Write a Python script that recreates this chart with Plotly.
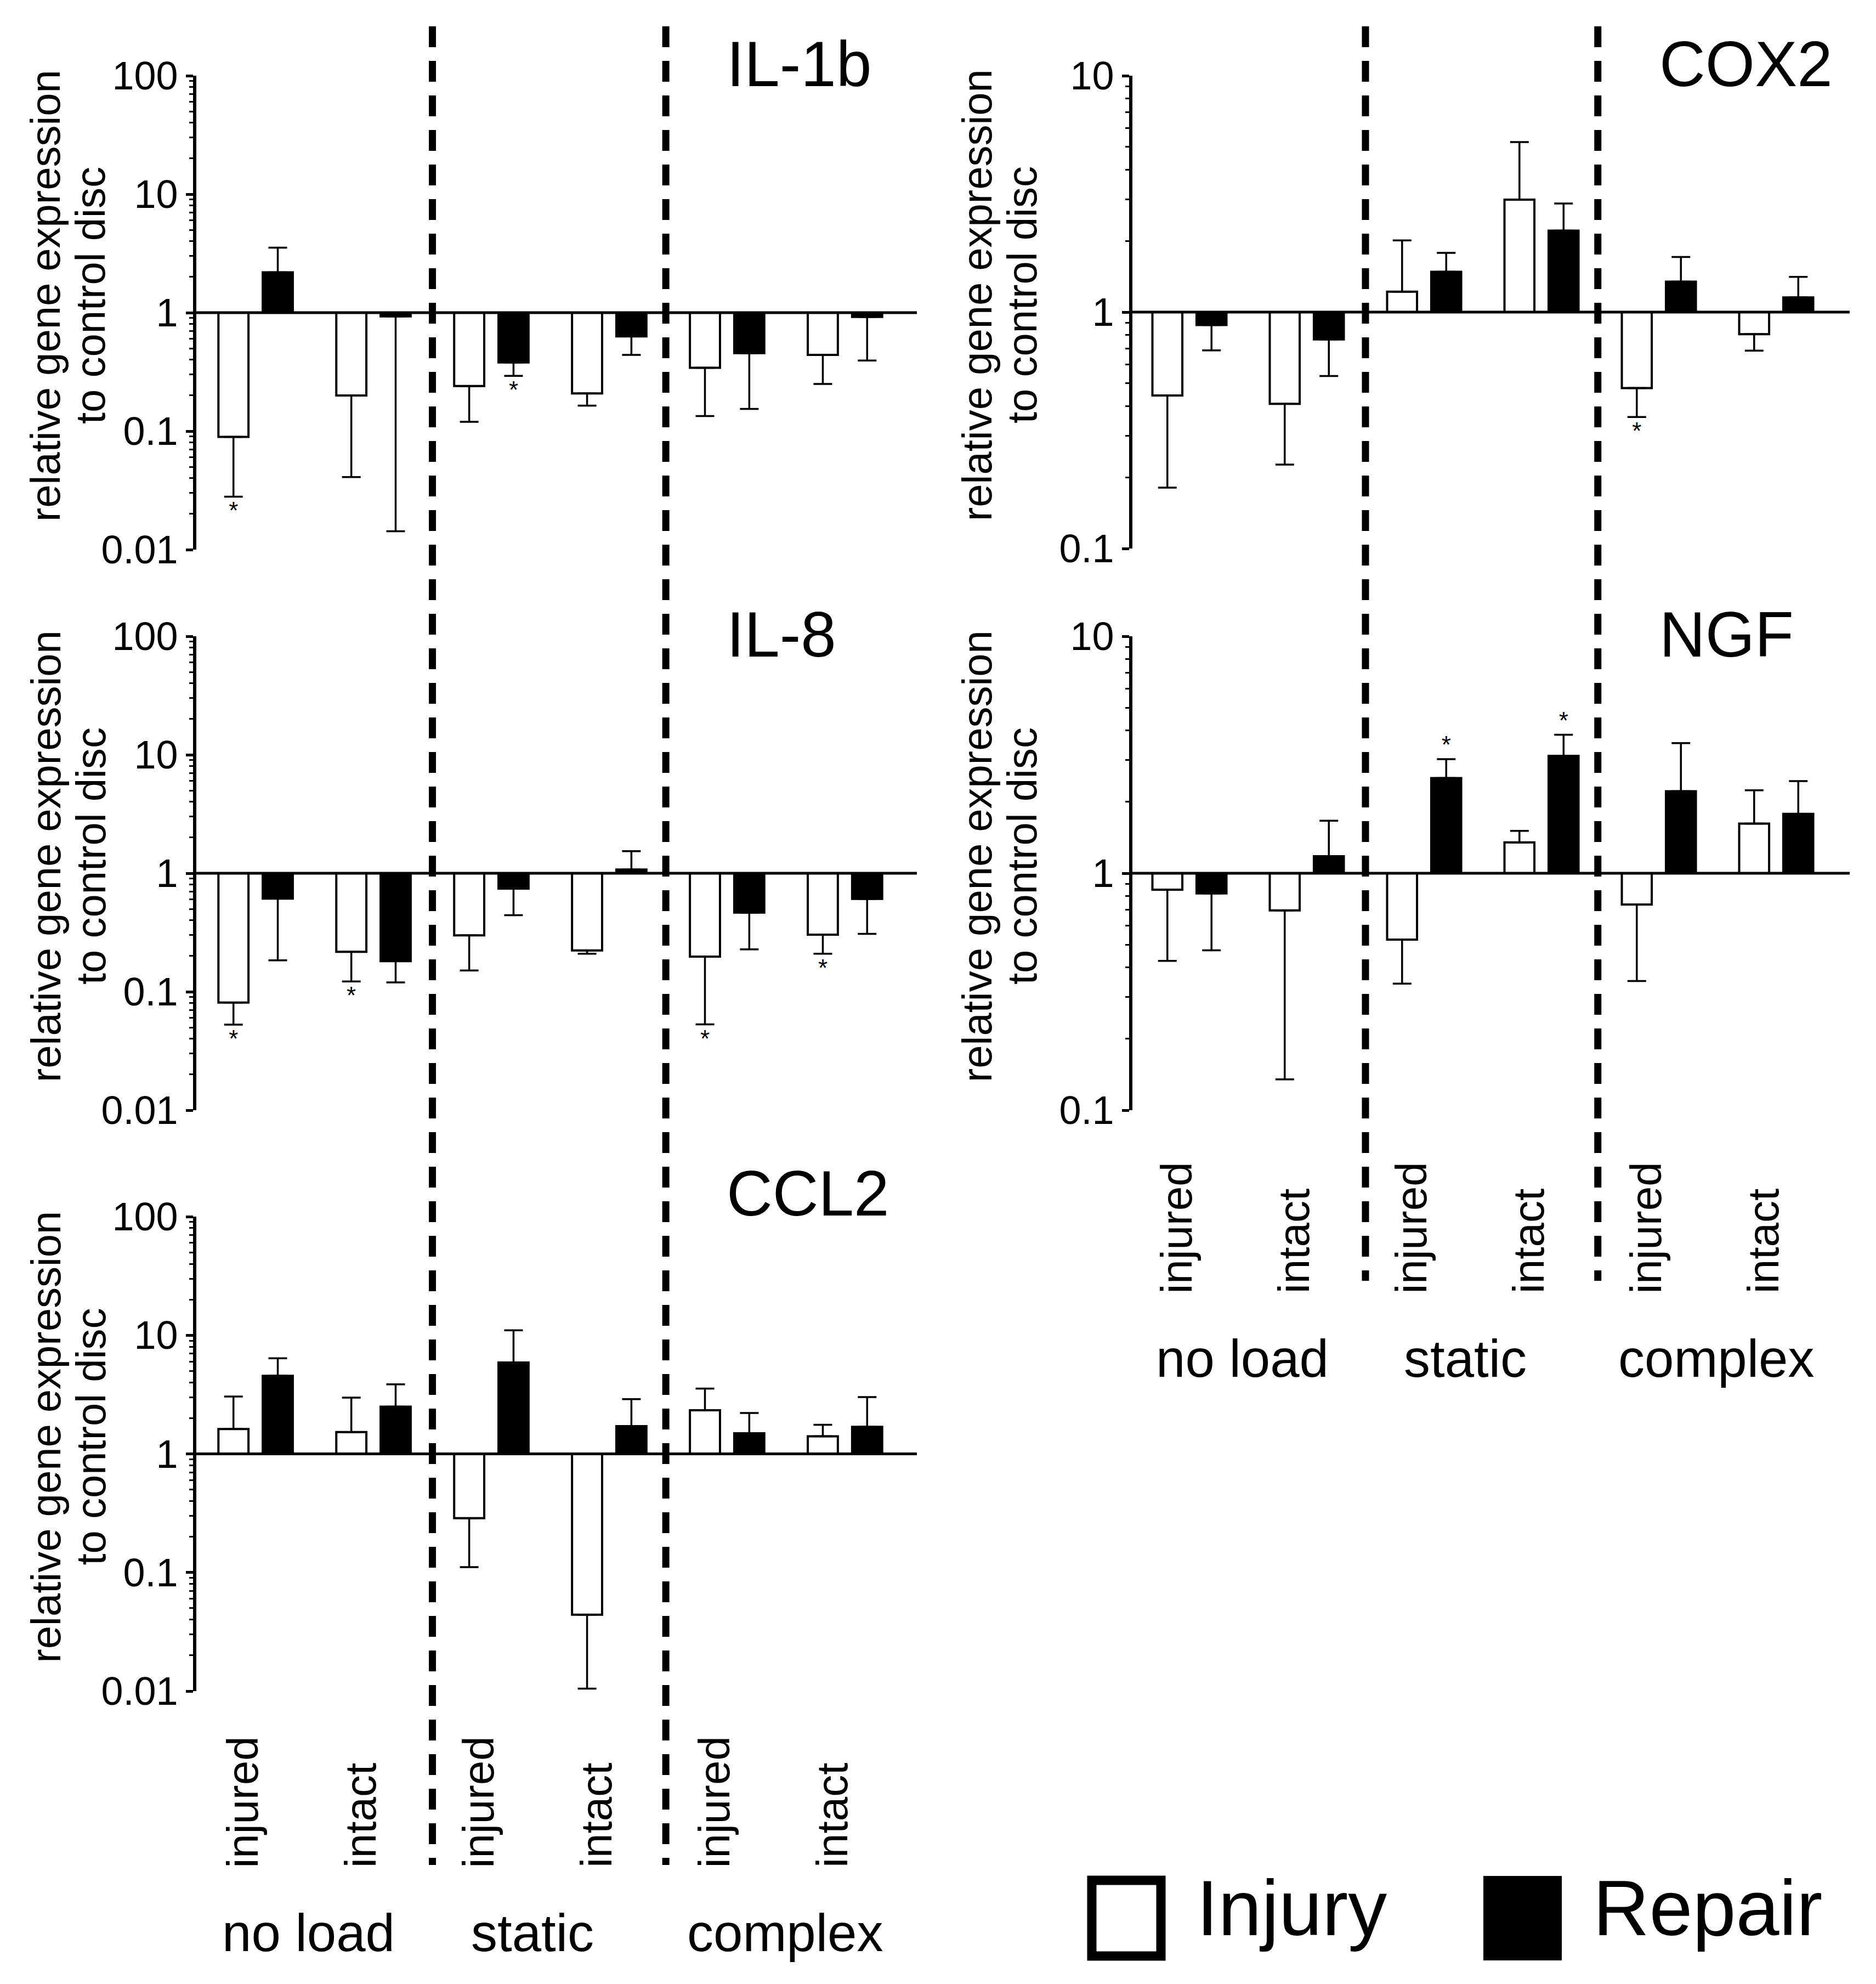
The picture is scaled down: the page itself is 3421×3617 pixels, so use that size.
import plotly.graph_objects as go

W, H = 3421, 3617
FONT = "Liberation Sans, Arial, Helvetica, sans-serif"

# ---------------- data ----------------
positions = [0, 1, 2, 3, 4, 5]
categories = ["injured", "intact", "injured", "intact", "injured", "intact"]
groups = ["no load", "static", "complex"]
series_names = ["Injury", "Repair"]

# IL-1b
il1b_injury = [0.0895, 0.20, 0.24, 0.208, 0.343, 0.44]
il1b_injury_err = [0.028, 0.041, 0.12, 0.164, 0.134, 0.25]
il1b_repair = [2.19, 0.93, 0.38, 0.63, 0.456, 0.92]
il1b_repair_err = [3.54, 0.0143, 0.293, 0.44, 0.154, 0.395]
il1b_injury_star = [0]
il1b_repair_star = [2]

# IL-8
il8_injury = [0.081, 0.217, 0.299, 0.223, 0.198, 0.303]
il8_injury_err = [0.0527, 0.122, 0.151, 0.209, 0.053, 0.209]
il8_repair = [0.611, 0.181, 0.741, 1.074, 0.466, 0.607]
il8_repair_err = [0.184, 0.12, 0.443, 1.535, 0.228, 0.308]
il8_injury_star = [0, 1, 4, 5]
il8_repair_star = []

# CCL2
ccl2_injury = [1.62, 1.525, 0.287, 0.044, 2.33, 1.405]
ccl2_injury_err = [3.04, 2.98, 0.111, 0.0105, 3.55, 1.76]
ccl2_repair = [4.55, 2.5, 5.88, 1.71, 1.49, 1.69]
ccl2_repair_err = [6.39, 3.86, 11.0, 2.89, 2.21, 3.01]
ccl2_injury_star = []
ccl2_repair_star = []

# COX2
cox2_injury = [0.444, 0.409, 1.22, 2.99, 0.477, 0.807]
cox2_injury_err = [0.181, 0.2265, 2.01, 5.24, 0.36, 0.687]
cox2_repair = [0.882, 0.767, 1.48, 2.21, 1.346, 1.154]
cox2_repair_err = [0.689, 0.537, 1.78, 2.88, 1.71, 1.41]
cox2_injury_star = [4]
cox2_repair_star = []

# NGF
ngf_injury = [0.852, 0.697, 0.525, 1.349, 0.738, 1.62]
ngf_injury_err = [0.427, 0.135, 0.342, 1.51, 0.351, 2.24]
ngf_repair = [0.822, 1.18, 2.52, 3.13, 2.22, 1.78]
ngf_repair_err = [0.473, 1.666, 3.03, 3.84, 3.54, 2.45]
ngf_injury_star = []
ngf_repair_star = [2, 3]

left_ticks = [0.01, 0.1, 1, 10, 100]
left_ticktext = ["0.01", "0.1", "1", "10", "100"]
right_ticks = [0.1, 1, 10]
right_ticktext = ["0.1", "1", "10"]

panels = [
    dict(title="IL-1b", inj=il1b_injury, inj_err=il1b_injury_err, rep=il1b_repair, rep_err=il1b_repair_err,
         inj_star=il1b_injury_star, rep_star=il1b_repair_star, col=0, row=0),
    dict(title="IL-8", inj=il8_injury, inj_err=il8_injury_err, rep=il8_repair, rep_err=il8_repair_err,
         inj_star=il8_injury_star, rep_star=il8_repair_star, col=0, row=1),
    dict(title="CCL2", inj=ccl2_injury, inj_err=ccl2_injury_err, rep=ccl2_repair, rep_err=ccl2_repair_err,
         inj_star=ccl2_injury_star, rep_star=ccl2_repair_star, col=0, row=2),
    dict(title="COX2", inj=cox2_injury, inj_err=cox2_injury_err, rep=cox2_repair, rep_err=cox2_repair_err,
         inj_star=cox2_injury_star, rep_star=cox2_repair_star, col=1, row=0),
    dict(title="NGF", inj=ngf_injury, inj_err=ngf_injury_err, rep=ngf_repair, rep_err=ngf_repair_err,
         inj_star=ngf_injury_star, rep_star=ngf_repair_star, col=1, row=1),
]

# ---------------- layout geometry (pixels) ----------------
col_x = [(350, 1664), (2057, 3365)]
rows_px = [[(130, 994), (1152, 2016), (2210, 3075)], [(130, 992), (1152, 2016)]]
x_ranges = [(-0.503, 5.61), (-0.486, 5.626)]
title_x = [1315, 3016]
title_y = [[109, 1149, 2168], [109, 1149]]
ytitle_x = [(75, 157), (1773, 1855)]
group_label_x = [0.45, 2.35, 4.49]
BAR_OFF = 0.188
BAR_W = 0.255


def px_x(p):
    return p / W


def px_y(p):
    return 1 - p / H


fig = go.Figure()
layout = dict(template="none", width=W, height=H, autosize=False,
              margin=dict(l=0, r=0, t=0, b=0, pad=0),
              paper_bgcolor="white", plot_bgcolor="rgba(0,0,0,0)",
              showlegend=False, font=dict(family=FONT, color="black"),
              barmode="overlay")
annotations = []
shapes = []

for k, p in enumerate(panels):
    ax = "" if k == 0 else str(k + 1)
    xa, ya = "x" + ax, "y" + ax
    col, row = p["col"], p["row"]
    x0, x1 = col_x[col]
    top, bot = rows_px[col][row]
    rng = x_ranges[col]
    if col == 0:
        tv, tt, yr = left_ticks, left_ticktext, [-2, 2]
    else:
        tv, tt, yr = right_ticks, right_ticktext, [-1, 1]
    decade_px = (bot - top) / (yr[1] - yr[0])

    layout["xaxis" + ax] = dict(domain=[px_x(x0), px_x(x1)], range=list(rng), anchor=ya,
                                showline=False, showticklabels=False, ticks="", showgrid=False,
                                zeroline=False, fixedrange=True, automargin=False)
    layout["yaxis" + ax] = dict(domain=[px_y(bot), px_y(top)], type="log", range=yr, anchor=xa,
                                tickmode="array", tickvals=tv, ticktext=tt,
                                showline=True, linewidth=6, linecolor="black",
                                ticks="outside", ticklen=13, tickwidth=5, tickcolor="black",
                                minor=dict(ticks="outside", ticklen=7, tickwidth=3, tickcolor="black",
                                           dtick="D1", showgrid=False),
                                showgrid=False, zeroline=False, automargin=False,
                                tickfont=dict(size=72, family=FONT, color="black"), fixedrange=True)

    for s, (vals, errs, stars, fill, off) in enumerate([
            (p["inj"], p["inj_err"], p["inj_star"], "white", -BAR_OFF),
            (p["rep"], p["rep_err"], p["rep_star"], "black", BAR_OFF)]):
        xs = [q + off for q in positions]
        size = [v - 1 for v in vals]
        up = [max(e - v, 0) if v >= 1 else 0 for v, e in zip(vals, errs)]
        down = [max(v - e, 0) if v < 1 else 0 for v, e in zip(vals, errs)]
        fig.add_trace(go.Bar(
            x=xs, y=size, base=[1] * len(vals), width=BAR_W, name=series_names[s],
            marker=dict(color=fill, line=dict(color="black", width=4)),
            error_y=dict(type="data", symmetric=False, array=up, arrayminus=down,
                         color="black", thickness=3.5, width=17),
            xaxis=xa, yaxis=ya, hoverinfo="skip"))
        if stars:
            sx, sy = [], []
            for i in stars:
                v, e = vals[i], errs[i]
                sx.append(xs[i])
                if v < 1:
                    sy.append(e * 10 ** (-30 / decade_px))
                else:
                    sy.append(e * 10 ** (22 / decade_px))
            fig.add_trace(go.Scatter(x=sx, y=sy, mode="text", text=["*"] * len(sx),
                                     textfont=dict(size=44, family=FONT, color="black"),
                                     textposition="middle center",
                                     xaxis=xa, yaxis=ya, hoverinfo="skip"))

    # reference line at 1
    fig.add_trace(go.Scatter(x=list(rng), y=[1, 1], mode="lines",
                             line=dict(color="black", width=5),
                             xaxis=xa, yaxis=ya, hoverinfo="skip"))

    # panel title
    annotations.append(dict(text=p["title"], x=px_x(title_x[col]), y=px_y(title_y[col][row]),
                            xref="paper", yref="paper", xanchor="left", yanchor="middle",
                            showarrow=False, font=dict(size=116, family=FONT, color="black")))
    # y-axis title (two lines)
    yc = px_y((top + bot) / 2 - 31)
    for line_txt, lx in zip(["relative gene expression", "to control disc"], ytitle_x[col]):
        annotations.append(dict(text=line_txt, x=px_x(lx), y=yc, xref="paper", yref="paper",
                                xanchor="center", yanchor="middle", textangle=-90,
                                showarrow=False, font=dict(size=76, family=FONT, color="black")))

# category / group labels under bottom panels
bottom_axes = [("x3", 3399, 3515), ("x5", 2352, 2468)]
for xa, cat_bottom, grp_y in bottom_axes:
    for q, c in zip(positions, categories):
        annotations.append(dict(text=c, x=q - 0.11, y=px_y(cat_bottom), xref=xa, yref="paper",
                                xanchor="center", yanchor="bottom", textangle=-90, showarrow=False,
                                font=dict(size=80, family=FONT, color="black")))
    for gx, name in zip(group_label_x, groups):
        annotations.append(dict(text=name, x=gx, y=px_y(grp_y), xref=xa, yref="paper",
                                xanchor="center", yanchor="middle", showarrow=False,
                                font=dict(size=96, family=FONT, color="black")))

# dashed separators
sep_positions = [1.5, 3.48]
for xa, ytop, ybot in [("x", 40, 3392), ("x4", 40, 2327)]:
    for sp in sep_positions:
        shapes.append(dict(type="line", xref=xa, yref="paper", x0=sp, x1=sp,
                           y0=px_y(ytop), y1=px_y(ybot),
                           line=dict(color="black", width=13, dash="38px,25px")))

# legend (drawn manually)
shapes.append(dict(type="rect", xref="paper", yref="paper",
                   x0=px_x(1983), x1=px_x(2109), y0=px_y(3420), y1=px_y(3558),
                   line=dict(color="black", width=17), fillcolor="white"))
shapes.append(dict(type="rect", xref="paper", yref="paper",
                   x0=px_x(2697), x1=px_x(2840), y0=px_y(3412), y1=px_y(3566),
                   line=dict(color="black", width=0), fillcolor="black"))
annotations.append(dict(text="Injury", x=px_x(2172), y=px_y(3470), xref="paper", yref="paper",
                        xanchor="left", yanchor="middle", showarrow=False,
                        font=dict(size=142, family=FONT, color="black")))
annotations.append(dict(text="Repair", x=px_x(2895), y=px_y(3470), xref="paper", yref="paper",
                        xanchor="left", yanchor="middle", showarrow=False,
                        font=dict(size=142, family=FONT, color="black")))

layout["annotations"] = annotations
layout["shapes"] = shapes
fig.update_layout(**layout)
fig.write_html("out.html")
